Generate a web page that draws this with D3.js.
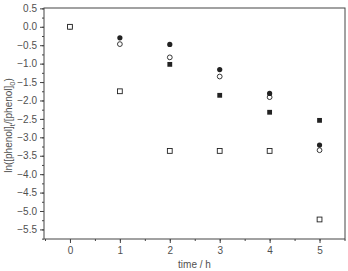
<!DOCTYPE html>
<html>
<head>
<meta charset="utf-8">
<script src="https://cdn.jsdelivr.net/npm/d3@7"></script>
<style>
  body { margin: 0; background: #fff; }
  svg { display: block; font-family: "Liberation Sans", Arial, sans-serif; }
</style>
</head>
<body>
<svg width="348" height="271"></svg>
<script>
const times = [0, 1, 2, 3, 4, 5];
const filledCircle = [null, -0.30, -0.48, -1.16, -1.81, -3.21];
const openCircle = [0, -0.47, -0.83, -1.35, -1.91, -3.35];
const filledSquare = [null, null, -1.02, -1.86, -2.32, -2.54];
const openSquare = [0, -1.75, -3.37, -3.37, -3.37, -5.23];
const xTicks = [0, 1, 2, 3, 4, 5];
const yTicks = [0.5, 0, -0.5, -1, -1.5, -2, -2.5, -3, -3.5, -4, -4.5, -5, -5.5];

const width = 348;
const height = 271;
const margin = { top: 8, right: 3, bottom: 32, left: 44 };
const axisColor = "#444";
const textColor = "#505050";
const fontSize = 10;

const svg = d3.select("svg");

const xScale = d3.scaleLinear()
  .domain([-0.52, 5.51])
  .range([margin.left, width - margin.right]);
const yScale = d3.scaleLinear()
  .domain([-5.76, 0.51])
  .range([height - margin.bottom, margin.top]);

const x0 = margin.left, x1 = width - margin.right;
const y0 = margin.top, y1 = height - margin.bottom;

// frame
svg.append("rect")
  .attr("x", x0).attr("y", y0)
  .attr("width", x1 - x0).attr("height", y1 - y0)
  .attr("fill", "none").attr("stroke", axisColor).attr("stroke-width", 1);

// x axis
const xMinor = d3.range(-0.5, 5.51, 0.5);
svg.append("g")
  .attr("transform", `translate(0, ${y1})`)
  .call(d3.axisBottom(xScale).tickValues(xMinor).tickSize(2).tickFormat(""))
  .call(g => g.select(".domain").remove())
  .selectAll("line").attr("stroke", axisColor);
svg.append("g")
  .attr("transform", `translate(0, ${y1})`)
  .call(d3.axisBottom(xScale).tickValues(xTicks).tickSize(4).tickPadding(4).tickFormat(d3.format("d")))
  .call(g => g.select(".domain").remove())
  .call(g => g.selectAll("line").attr("stroke", axisColor))
  .call(g => g.selectAll("text").attr("fill", textColor).attr("font-size", fontSize)
    .attr("font-family", "Liberation Sans, Arial, sans-serif"));

// y axis
const yMinor = d3.range(-5.75, 0.51, 0.25);
svg.append("g")
  .attr("transform", `translate(${x0}, 0)`)
  .call(d3.axisLeft(yScale).tickValues(yMinor).tickSize(2).tickFormat(""))
  .call(g => g.select(".domain").remove())
  .selectAll("line").attr("stroke", axisColor);
svg.append("g")
  .attr("transform", `translate(${x0}, 0)`)
  .call(d3.axisLeft(yScale).tickValues(yTicks).tickSize(4).tickPadding(3).tickFormat(d3.format(".1f")))
  .call(g => g.select(".domain").remove())
  .call(g => g.selectAll("line").attr("stroke", axisColor))
  .call(g => g.selectAll("text").attr("fill", textColor).attr("font-size", fontSize)
    .attr("font-family", "Liberation Sans, Arial, sans-serif"));

// labels
svg.append("text")
  .attr("x", (x0 + x1) / 2).attr("y", 268)
  .attr("text-anchor", "middle")
  .attr("font-size", fontSize).attr("fill", textColor)
  .text("time / h");

const yl = svg.append("text")
  .attr("transform", `translate(12, ${(y0 + y1) / 2 + 2}) rotate(-90)`)
  .attr("text-anchor", "middle")
  .attr("font-size", fontSize).attr("fill", textColor);
yl.append("tspan").text("ln([phenol]");
yl.append("tspan").attr("font-size", 7.5).attr("dy", 3).text("t");
yl.append("tspan").attr("dy", -3).text("/[phenol]");
yl.append("tspan").attr("font-size", 7.5).attr("dy", 3).text("0");
yl.append("tspan").attr("dy", -3).text(")");

// markers
const pts = vals => times.map((t, i) => ({ t, v: vals[i] })).filter(d => d.v !== null);
const dark = "#222";

svg.append("g").selectAll("circle")
  .data(pts(openCircle)).join("circle")
  .attr("cx", d => xScale(d.t)).attr("cy", d => yScale(d.v))
  .attr("r", 2.4).attr("fill", "#fff").attr("stroke", dark).attr("stroke-width", 0.9);

svg.append("g").selectAll("circle")
  .data(pts(filledCircle)).join("circle")
  .attr("cx", d => xScale(d.t)).attr("cy", d => yScale(d.v))
  .attr("r", 2.6).attr("fill", dark);

svg.append("g").selectAll("rect")
  .data(pts(filledSquare)).join("rect")
  .attr("x", d => xScale(d.t) - 2.4).attr("y", d => yScale(d.v) - 2.4)
  .attr("width", 4.8).attr("height", 4.8).attr("fill", dark);

svg.append("g").selectAll("rect")
  .data(pts(openSquare)).join("rect")
  .attr("x", d => xScale(d.t) - 2.4).attr("y", d => yScale(d.v) - 2.4)
  .attr("width", 4.8).attr("height", 4.8)
  .attr("fill", "#fff").attr("stroke", dark).attr("stroke-width", 0.9);
</script>
</body>
</html>
